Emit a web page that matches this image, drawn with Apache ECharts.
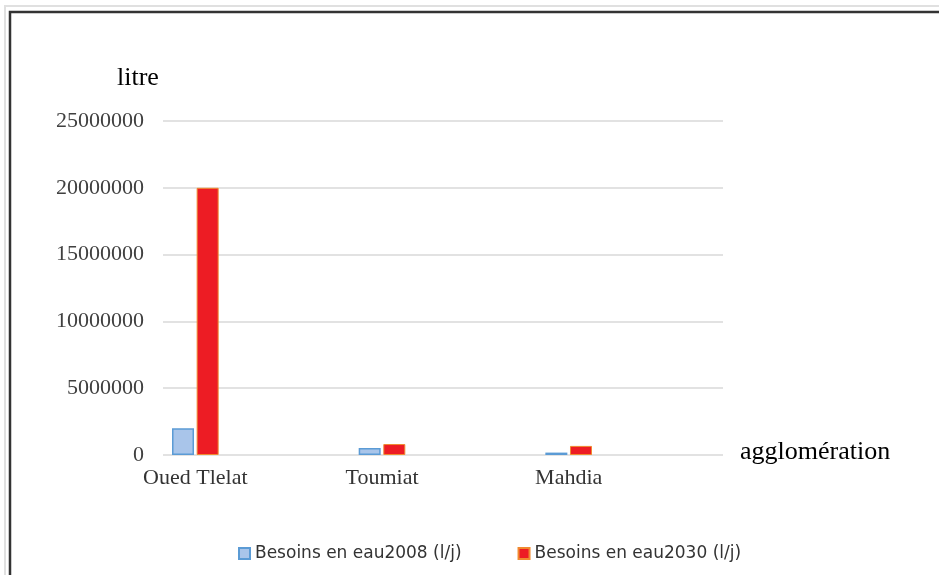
<!DOCTYPE html>
<html>
<head>
<meta charset="utf-8">
<script src="https://cdn.jsdelivr.net/npm/echarts@6/dist/echarts.min.js"></script>
<style>
  html, body { margin: 0; padding: 0; background: #fff; }
  #chart { width: 939px; height: 575px; }
</style>
</head>
<body>
<div id="chart"></div>
<script>
// Water needs per agglomeration (litres per day)
const categories = ['Oued Tlelat', 'Toumiat', 'Mahdia'];
const besoins2008 = [2000000, 520000, 180000];
const besoins2030 = [20000000, 820000, 680000];
const seriesNames = ['Besoins en eau2008 (l/j)', 'Besoins en eau2030 (l/j)'];
const yTicks = { min: 0, max: 25000000, interval: 5000000 };

const serif = '"Liberation Serif", "DejaVu Serif", serif';
const chart = echarts.init(document.getElementById('chart'));

chart.setOption({
  animation: false,
  backgroundColor: '#ffffff',
  grid: [
    // frame with value scale and gridlines
    { left: 163, right: 216, top: 121, bottom: 120, containLabel: false },
    // bar clusters, sitting under their category labels
    { left: 102, width: 560, top: 121, bottom: 120, containLabel: false }
  ],
  xAxis: [
    { gridIndex: 0, type: 'category', data: categories, show: false },
    {
      gridIndex: 1, type: 'category', data: categories,
      axisLine: { show: false }, axisTick: { show: false },
      axisLabel: { color: '#333', fontFamily: serif, fontSize: 22, margin: 12 }
    }
  ],
  yAxis: [
    {
      gridIndex: 0, type: 'value',
      min: yTicks.min, max: yTicks.max, interval: yTicks.interval,
      axisLine: { show: false }, axisTick: { show: false },
      axisLabel: {
        color: '#404040', fontFamily: serif, fontSize: 22, margin: 19,
        formatter: v => String(v)
      },
      splitLine: { lineStyle: { color: '#d9d9d9', width: 1.5 } }
    },
    {
      gridIndex: 1, type: 'value',
      min: yTicks.min, max: yTicks.max, interval: yTicks.interval,
      show: false, splitLine: { show: false }
    }
  ],
  legend: {
    left: 233, top: 540,
    icon: 'rect', itemWidth: 11, itemHeight: 11, itemGap: 56,
    textStyle: { color: '#333', fontFamily: '"DejaVu Sans", sans-serif', fontSize: 17 },
    data: seriesNames
  },
  series: [
    {
      name: seriesNames[0], type: 'bar', xAxisIndex: 1, yAxisIndex: 1,
      data: besoins2008, barWidth: 22, barGap: '12%',
      itemStyle: { color: '#a9c5ea', borderColor: '#5b9bd5', borderWidth: 1.5 }
    },
    {
      name: seriesNames[1], type: 'bar', xAxisIndex: 1, yAxisIndex: 1,
      data: besoins2030, barWidth: 22,
      itemStyle: { color: '#ed1c24', borderColor: '#f08a30', borderWidth: 1 }
    }
  ],
  graphic: [
    // outer page edge and chart frame
    { type: 'polyline', shape: { points: [[5, 575], [5, 6], [939, 6]] }, style: { stroke: '#e0e0e0', lineWidth: 2, fill: null } },
    { type: 'polyline', shape: { points: [[10, 575], [10, 12], [939, 12]] }, style: { stroke: '#333333', lineWidth: 2.5, fill: null } },
    // axis titles
    { type: 'text', left: 117, top: 65, style: { text: 'litre', font: '26px ' + serif, fill: '#000' } },
    { type: 'text', left: 740, top: 439, style: { text: 'agglomération', font: '26px ' + serif, fill: '#000' } }
  ]
});
</script>
</body>
</html>
